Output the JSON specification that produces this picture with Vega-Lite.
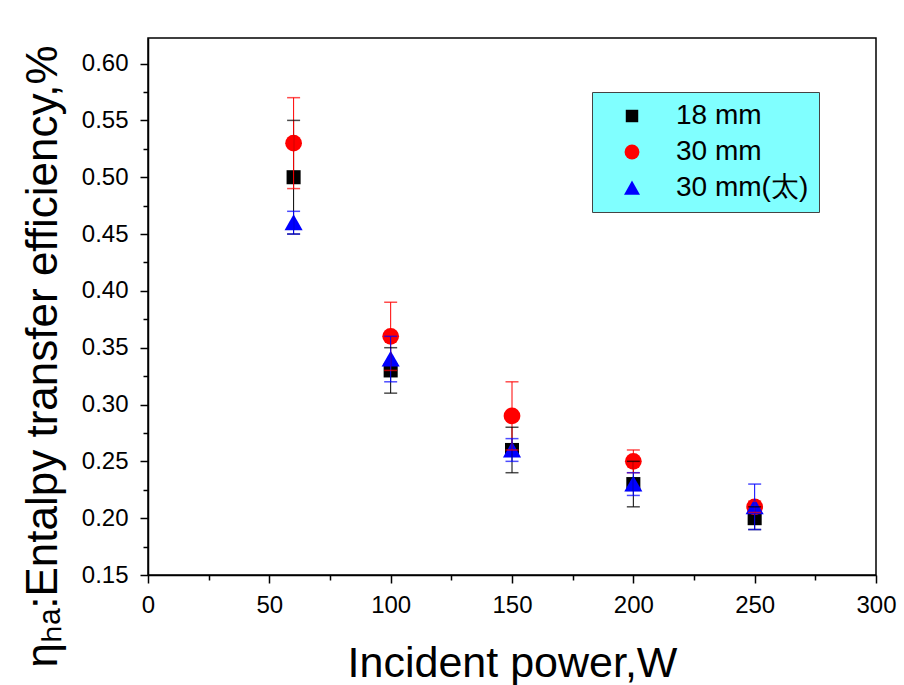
{
  "$schema": "https://vega.github.io/schema/vega-lite/v6.json",
  "width": 728,
  "height": 537,
  "autosize": {"type": "none"},
  "padding": {"left": 148, "top": 38, "right": 28, "bottom": 110},
  "background": "white",
  "config": {
    "view": {"stroke": "black", "strokeWidth": 1.5},
    "font": "Liberation Sans",
    "axis": {"domainColor": "black", "domainWidth": 1.5, "tickColor": "black", "tickWidth": 1.5, "grid": false, "labelColor": "black", "titleColor": "black", "labelFont": "Liberation Sans", "titleFont": "Liberation Sans", "titleFontWeight": "normal", "labelFlush": false}
  },
  "data": {
    "values": [
      {"series": "18 mm", "power": 60, "eff": 0.50, "lo": 0.45, "hi": 0.55},
      {"series": "18 mm", "power": 100, "eff": 0.33, "lo": 0.31, "hi": 0.35},
      {"series": "18 mm", "power": 150, "eff": 0.26, "lo": 0.24, "hi": 0.28},
      {"series": "18 mm", "power": 200, "eff": 0.23, "lo": 0.21, "hi": 0.25},
      {"series": "18 mm", "power": 250, "eff": 0.20, "lo": 0.19, "hi": 0.21},
      {"series": "30 mm", "power": 60, "eff": 0.53, "lo": 0.49, "hi": 0.57},
      {"series": "30 mm", "power": 100, "eff": 0.36, "lo": 0.33, "hi": 0.39},
      {"series": "30 mm", "power": 150, "eff": 0.29, "lo": 0.26, "hi": 0.32},
      {"series": "30 mm", "power": 200, "eff": 0.25, "lo": 0.24, "hi": 0.26},
      {"series": "30 mm", "power": 250, "eff": 0.21, "lo": 0.205, "hi": 0.215},
      {"series": "30 mm(太)", "power": 60, "eff": 0.46, "lo": 0.45, "hi": 0.47},
      {"series": "30 mm(太)", "power": 100, "eff": 0.34, "lo": 0.32, "hi": 0.36},
      {"series": "30 mm(太)", "power": 150, "eff": 0.26, "lo": 0.25, "hi": 0.27},
      {"series": "30 mm(太)", "power": 200, "eff": 0.23, "lo": 0.22, "hi": 0.24},
      {"series": "30 mm(太)", "power": 250, "eff": 0.21, "lo": 0.19, "hi": 0.23}
    ]
  },
  "resolve": {"axis": {"x": "independent", "y": "independent"}, "legend": {"color": "independent", "shape": "independent"}},
  "layer": [
    {
      "mark": {"type": "point", "filled": true, "opacity": 1, "size": 280, "strokeWidth": 0},
      "encoding": {
        "x": {"field": "power", "type": "quantitative", "scale": {"domain": [0, 300], "nice": false},
              "axis": {"orient": "bottom", "values": [0, 50, 100, 150, 200, 250, 300], "tickSize": 8, "labelFontSize": 24, "labelPadding": 10,
                       "title": "Incident power,W", "titleFontSize": 43, "titleY": 101, "titleX": 364, "titleBaseline": "alphabetic"}},
        "y": {"field": "eff", "type": "quantitative", "scale": {"domain": [0.15, 0.6225], "nice": false, "zero": false},
              "axis": {"orient": "left", "values": [0.15, 0.2, 0.25, 0.3, 0.35, 0.4, 0.45, 0.5, 0.55, 0.6], "format": ".2f", "tickSize": 8, "labelFontSize": 24, "labelPadding": 12,
                       "title": "ηₕₐ:Entalpy transfer efficiency,%", "titleFontSize": 44, "titleAngle": -90, "titleX": -92, "titleY": 318, "titleBaseline": "alphabetic", "titleAlign": "center"}},
        "color": {"field": "series", "type": "nominal", "title": null,
                  "scale": {"domain": ["18 mm", "30 mm", "30 mm(太)"], "range": ["#000000", "#FF0000", "#0000FF"]},
                  "legend": {"orient": "none", "legendX": 444, "legendY": 54, "fillColor": "#80FFFF", "strokeColor": "#444444", "padding": 10,
                             "labelFontSize": 28, "labelFont": "Liberation Sans", "labelColor": "black", "symbolSize": 220, "symbolOffset": 16, "labelOffset": 30, "rowPadding": 8, "symbolStrokeWidth": 0}},
        "shape": {"field": "series", "type": "nominal", "title": null,
                  "scale": {"domain": ["18 mm", "30 mm", "30 mm(太)"], "range": ["M-0.84,-0.84H0.84V0.84H-0.84Z", "circle", "M0,-1L1.08,0.9L-1.08,0.9Z"]}}
      }
    },
    {
      "mark": {"type": "rule", "strokeWidth": 1},
      "encoding": {
        "x": {"field": "power", "type": "quantitative",
              "axis": {"orient": "bottom", "values": [25, 75, 125, 175, 225, 275], "tickSize": 5, "labels": false, "domain": false, "title": null}},
        "y": {"field": "lo", "type": "quantitative",
              "axis": {"orient": "left", "values": [0.175, 0.225, 0.275, 0.325, 0.375, 0.425, 0.475, 0.525, 0.575], "tickSize": 5, "labels": false, "domain": false, "title": null}},
        "y2": {"field": "hi"},
        "color": {"field": "series", "type": "nominal", "legend": null}
      }
    },
    {
      "mark": {"type": "tick", "orient": "horizontal", "size": 13, "thickness": 1.5},
      "encoding": {
        "x": {"field": "power", "type": "quantitative", "axis": null},
        "y": {"field": "lo", "type": "quantitative", "axis": null},
        "color": {"field": "series", "type": "nominal", "legend": null}
      }
    },
    {
      "mark": {"type": "tick", "orient": "horizontal", "size": 13, "thickness": 1.5},
      "encoding": {
        "x": {"field": "power", "type": "quantitative", "axis": null},
        "y": {"field": "hi", "type": "quantitative", "axis": null},
        "color": {"field": "series", "type": "nominal", "legend": null}
      }
    }
  ]
}
